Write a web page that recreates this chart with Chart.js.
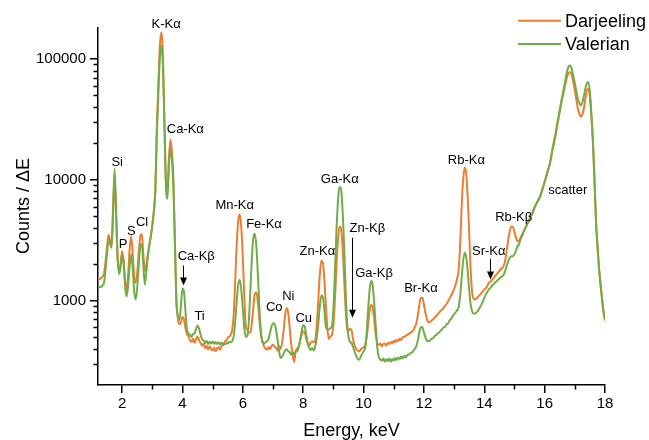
<!DOCTYPE html>
<html><head><meta charset="utf-8">
<script src="https://cdn.jsdelivr.net/npm/chart.js@4.4.1/dist/chart.umd.min.js"></script>
<style>html,body{margin:0;padding:0;background:#fff;overflow:hidden}canvas{display:block}</style>
</head><body>
<canvas id="c" width="649" height="440"></canvas>
<script>
// Energy channels (keV)
const energy = [
1.2,1.25,1.3,1.35,1.4,1.45,1.5,1.55,1.6,1.65,1.7,1.75,1.8,1.85,1.9,1.95,
2,2.05,2.1,2.15,2.2,2.25,2.3,2.35,2.4,2.45,2.5,2.55,2.6,2.65,2.7,2.75,2.8,2.85,2.9,2.95,
3,3.05,3.1,3.15,3.2,3.25,3.3,3.35,3.4,3.45,3.5,3.55,3.6,3.65,3.7,3.75,3.8,3.85,3.9,3.95,
4,4.05,4.1,4.15,4.2,4.25,4.3,4.35,4.4,4.45,4.5,4.55,4.6,4.65,4.7,4.75,4.8,4.85,4.9,4.95,
5,5.05,5.1,5.15,5.2,5.25,5.3,5.35,5.4,5.45,5.5,5.55,5.6,5.65,5.7,5.75,5.8,5.85,5.9,5.95,
6,6.05,6.1,6.15,6.2,6.25,6.3,6.35,6.4,6.45,6.5,6.55,6.6,6.65,6.7,6.75,6.8,6.85,6.9,6.95,
7,7.05,7.1,7.15,7.2,7.25,7.3,7.35,7.4,7.45,7.5,7.55,7.6,7.65,7.7,7.75,7.8,7.85,7.9,7.95,
8,8.05,8.1,8.15,8.2,8.25,8.3,8.35,8.4,8.45,8.5,8.55,8.6,8.65,8.7,8.75,8.8,8.85,8.9,8.95,
9,9.05,9.1,9.15,9.2,9.25,9.3,9.35,9.4,9.45,9.5,9.55,9.6,9.65,9.7,9.75,9.8,9.85,9.9,9.95,
10,10.05,10.1,10.15,10.2,10.25,10.3,10.35,10.4,10.45,10.5,10.55,10.6,10.65,10.7,10.75,10.8,10.85,10.9,10.95,
11,11.05,11.1,11.15,11.2,11.25,11.3,11.35,11.4,11.45,11.5,11.55,11.6,11.65,11.7,11.75,11.8,11.85,11.9,11.95,
12,12.05,12.1,12.15,12.2,12.25,12.3,12.35,12.4,12.45,12.5,12.55,12.6,12.65,12.7,12.75,12.8,12.85,12.9,12.95,
13,13.05,13.1,13.15,13.2,13.25,13.3,13.35,13.4,13.45,13.5,13.55,13.6,13.65,13.7,13.75,13.8,13.85,13.9,13.95,
14,14.05,14.1,14.15,14.2,14.25,14.3,14.35,14.4,14.45,14.5,14.55,14.6,14.65,14.7,14.75,14.8,14.85,14.9,14.95,
15,15.05,15.1,15.15,15.2,15.25,15.3,15.35,15.4,15.45,15.5,15.55,15.6,15.65,15.7,15.75,15.8,15.85,15.9,15.95,
16,16.05,16.1,16.15,16.2,16.25,16.3,16.35,16.4,16.45,16.5,16.55,16.6,16.65,16.7,16.75,16.8,16.85,16.9,16.95,
17,17.05,17.1,17.15,17.2,17.25,17.3,17.35,17.4,17.45,17.5,17.55,17.6,17.65,17.7,17.75,17.8,17.85,17.9,17.95,
18];

const darjeeling = [
1540,1500,1530,1580,1680,2100,2800,3500,3100,2750,5200,10500,5000,2200,1750,2050,
2560,2150,1450,1230,1650,2700,3400,2450,1550,1400,1700,2500,3400,3550,2500,1750,1950,2400,2900,3400,
4200,5500,8500,27000,62000,128000,166000,110000,31600,9500,8000,15000,21500,17000,10000,3000,1000,700,640,660,
730,700,590,525,505,470,455,482,448,478,505,468,445,422,442,402,422,393,418,396,
386,408,380,404,410,392,424,428,458,466,492,505,520,580,790,1520,3040,4700,5150,3965,
2230,1060,600,575,540,545,660,900,1140,1167,950,685,520,455,418,400,392,410,396,420,
432,416,404,386,422,396,450,560,760,865,800,600,440,360,310,382,400,420,470,525,
555,545,480,445,428,448,460,452,470,630,1015,1635,2130,2065,1505,915,590,480,505,520,
630,1000,1870,3130,4100,3980,2880,1650,890,600,560,580,570,480,430,398,386,378,392,402,
410,425,490,630,815,925,875,700,535,445,430,440,418,438,442,422,448,436,454,442,
464,452,474,462,484,472,498,500,512,520,532,540,552,568,605,650,760,930,1055,1050,
930,790,700,660,662,680,698,720,740,770,790,820,843,870,900,940,988,1042,1096,1160,
1250,1350,1520,1800,2900,6000,10000,12600,11300,7200,3600,1750,1150,1030,1020,1050,1078,1115,1148,1190,
1230,1265,1318,1402,1428,1475,1525,1585,1638,1705,1755,1825,1860,1960,2200,2650,3250,3800,4100,4050,
3700,3300,3120,3100,3300,3500,3720,3960,4200,4450,4700,5000,5320,5750,6150,6500,6860,7250,7900,8700,
9600,10600,11800,12900,14500,17000,19500,22500,26500,31000,36500,42500,49000,56000,64000,72000,77000,77600,73000,64000,
55000,46000,39000,35000,33200,34500,39000,47000,55000,56500,48000,33000,20000,10000,4600,2800,1850,1350,1020,800,
680];

const valerian = [
1320,1290,1300,1330,1400,1800,2450,3200,2950,2750,6000,12300,5600,2300,1650,1900,
2360,2000,1280,1085,1350,1950,2400,1850,1180,1020,1280,1950,2800,2950,2000,1355,1700,2300,2850,3400,
4200,5400,8000,24000,52000,102000,129000,88000,30000,9000,6950,13000,18400,14500,8500,2800,950,740,690,930,
1260,1180,800,580,530,520,500,528,535,585,620,585,522,478,466,446,462,436,456,440,
458,438,454,436,452,432,448,436,434,444,442,455,452,462,515,685,1018,1380,1480,1220,
840,584,500,510,690,1230,2270,3340,3570,2740,1595,846,555,455,440,450,462,480,540,610,
650,640,570,470,380,335,345,360,388,396,380,374,356,372,358,378,380,410,470,560,
625,610,520,440,404,390,404,386,420,495,650,900,1100,1070,845,610,580,575,590,610,
850,1680,3650,6530,8720,8450,5850,3070,1350,690,500,455,446,416,378,352,330,324,340,362,
380,400,530,830,1220,1455,1345,980,630,420,342,326,318,332,312,328,314,332,312,328,
318,334,322,338,328,344,332,350,338,354,356,368,372,382,400,420,470,550,605,600,
545,495,465,460,466,484,486,508,516,534,542,564,576,598,606,634,646,684,706,742,
770,800,830,880,1090,1540,2130,2490,2310,1760,1220,920,810,780,782,802,830,870,920,980,
1050,1118,1182,1233,1268,1322,1360,1402,1440,1482,1520,1562,1590,1650,1780,1960,2140,2270,2330,2330,
2420,2600,2800,2920,3200,3420,3660,3920,4160,4420,4680,5000,5320,5750,6150,6500,6860,7250,7900,8700,
9600,10600,11800,12900,14800,17500,20200,23300,27500,32200,38000,44500,51000,59500,69500,80000,87000,88100,82000,72000,
63000,54000,47000,43000,41100,43500,49000,57000,63000,64100,53000,35000,21500,10500,4680,2900,1900,1400,1060,820,
696];

const seriesNames = ['Darjeeling', 'Valerian'];
const xTicks = [2, 4, 6, 8, 10, 12, 14, 16, 18];
const xMinorTicks = [3, 5, 7, 9, 11, 13, 15, 17];
const yTicks = [1000, 10000, 100000];
const yMinorTicks = [300,400,500,600,700,800,900,2000,3000,4000,5000,6000,7000,8000,9000,
                     20000,30000,40000,50000,60000,70000,80000,90000];

// Peak annotations: label text, energy (keV), log10(counts) at label centre
const peakText   = ['K-Kα','Ca-Kα','Si','P','S','Cl','Ca-Kβ','Ti','Mn-Kα','Fe-Kα','Zn-Kα','Co','Ni','Cu','Ga-Kα','Zn-Kβ','Ga-Kβ','Br-Kα','Rb-Kα','Sr-Kα','Rb-Kβ','scatter'];
const peakTextE  = [3.455,4.093,1.835,2.033,2.307,2.661,4.456,4.565,5.73,6.70,8.47,7.041,7.507,8.017,9.21,10.125,10.347,11.90,13.405,14.149,14.975,16.764];
const peakTextLog= [5.285,4.416,4.140,3.464,3.574,3.643,3.362,2.870,3.786,3.629,3.405,2.945,3.031,2.851,4.0,3.596,3.224,3.097,4.161,3.408,3.691,3.913];
// Arrows: energy, start log-count, tip log-count
const arrowE    = [4.003, 9.60, 14.175];
const arrowFrom = [3.29, 3.519, 3.345];
const arrowTo   = [3.124, 2.857, 3.174];

const ORANGE = '#ED7D31', GREEN = '#70AD47';
const FONT = '"Liberation Sans", Arial, Helvetica, sans-serif';
Chart.defaults.font.family = FONT;
Chart.defaults.color = '#000';

const overlay = {
  id: 'overlay',
  afterDraw(chart) {
    const ctx = chart.ctx, X = chart.scales.x, Y = chart.scales.y, a = chart.chartArea;
    ctx.save();
    // minor ticks
    ctx.strokeStyle = '#000'; ctx.lineWidth = 1.5;
    ctx.beginPath();
    yMinorTicks.forEach(v => { const y = Math.round(Y.getPixelForValue(v)) + 0.5; ctx.moveTo(a.left, y); ctx.lineTo(a.left - 4.5, y); });
    xMinorTicks.forEach(v => { const x = Math.round(X.getPixelForValue(v)) + 0.5; ctx.moveTo(x, a.bottom); ctx.lineTo(x, a.bottom + 4.5); });
    ctx.stroke();
    // peak labels
    ctx.fillStyle = '#000';
    ctx.font = '13px ' + FONT;
    ctx.textAlign = 'center'; ctx.textBaseline = 'middle';
    peakText.forEach((t, i) => {
      ctx.fillText(t, X.getPixelForValue(peakTextE[i]), Y.getPixelForValue(Math.pow(10, peakTextLog[i])));
    });
    // arrows
    ctx.lineWidth = 1;
    arrowE.forEach((e, i) => {
      const x = Math.round(X.getPixelForValue(e)) + 0.5;
      const y1 = Y.getPixelForValue(Math.pow(10, arrowFrom[i]));
      const y2 = Y.getPixelForValue(Math.pow(10, arrowTo[i]));
      ctx.beginPath(); ctx.moveTo(x, y1); ctx.lineTo(x, y2 - 6); ctx.stroke();
      ctx.beginPath(); ctx.moveTo(x - 3.5, y2 - 8); ctx.lineTo(x + 3.5, y2 - 8); ctx.lineTo(x, y2); ctx.closePath(); ctx.fill();
    });
    // axis titles
    ctx.font = '18px ' + FONT;
    ctx.textAlign = 'center'; ctx.textBaseline = 'alphabetic';
    ctx.fillText('Energy, keV', (a.left + a.right) / 2, 436);
    ctx.save();
    ctx.translate(29, 206); ctx.rotate(-Math.PI / 2);
    ctx.fillText('Counts / ΔE', 0, 0);
    ctx.restore();
    // legend
    const colors = [ORANGE, GREEN], ly = [20.7, 44];
    ctx.textAlign = 'left'; ctx.textBaseline = 'middle';
    seriesNames.forEach((n, i) => {
      ctx.strokeStyle = colors[i]; ctx.lineWidth = 2;
      ctx.beginPath(); ctx.moveTo(518, ly[i]); ctx.lineTo(561, ly[i]); ctx.stroke();
      ctx.fillStyle = '#000';
      ctx.fillText(n, 565, ly[i] + 1);
    });
    ctx.restore();
  }
};

new Chart(document.getElementById('c'), {
  type: 'line',
  data: {
    datasets: [
      { label: seriesNames[0], data: energy.map((e, i) => ({x: e, y: darjeeling[i]})), borderColor: ORANGE, backgroundColor: ORANGE, order: 1 },
      { label: seriesNames[1], data: energy.map((e, i) => ({x: e, y: valerian[i]})), borderColor: GREEN, backgroundColor: GREEN, order: 0 }
    ]
  },
  options: {
    responsive: false, animation: false, devicePixelRatio: 1,
    layout: { padding: { left: 0, top: 28, right: 44, bottom: 0 } },
    plugins: { legend: { display: false }, tooltip: { enabled: false }, title: { display: false } },
    elements: { point: { radius: 0 }, line: { borderWidth: 2, cubicInterpolationMode: 'monotone' } },
    scales: {
      x: {
        type: 'linear', min: 1.2, max: 18,
        afterBuildTicks: s => { s.ticks = xTicks.map(v => ({ value: v })); },
        afterFit: s => { s.height = 55; },
        grid: { display: true, drawOnChartArea: false, drawTicks: true, tickLength: 8, color: '#000', lineWidth: 1.5 },
        border: { display: true, color: '#000', width: 1.5 },
        ticks: { color: '#000', font: { size: 15 }, padding: 2, maxRotation: 0, autoSkip: false }
      },
      y: {
        type: 'logarithmic', min: 200, max: 180000,
        afterBuildTicks: s => { s.ticks = yTicks.map(v => ({ value: v })); },
        afterFit: s => { s.width = 98; },
        grid: { display: true, drawOnChartArea: false, drawTicks: true, tickLength: 8, color: '#000', lineWidth: 1.5 },
        border: { display: true, color: '#000', width: 1.5 },
        ticks: { color: '#000', font: { size: 15 }, padding: 4, autoSkip: false, callback: v => String(v) }
      }
    }
  },
  plugins: [overlay]
});
</script>
</body></html>
